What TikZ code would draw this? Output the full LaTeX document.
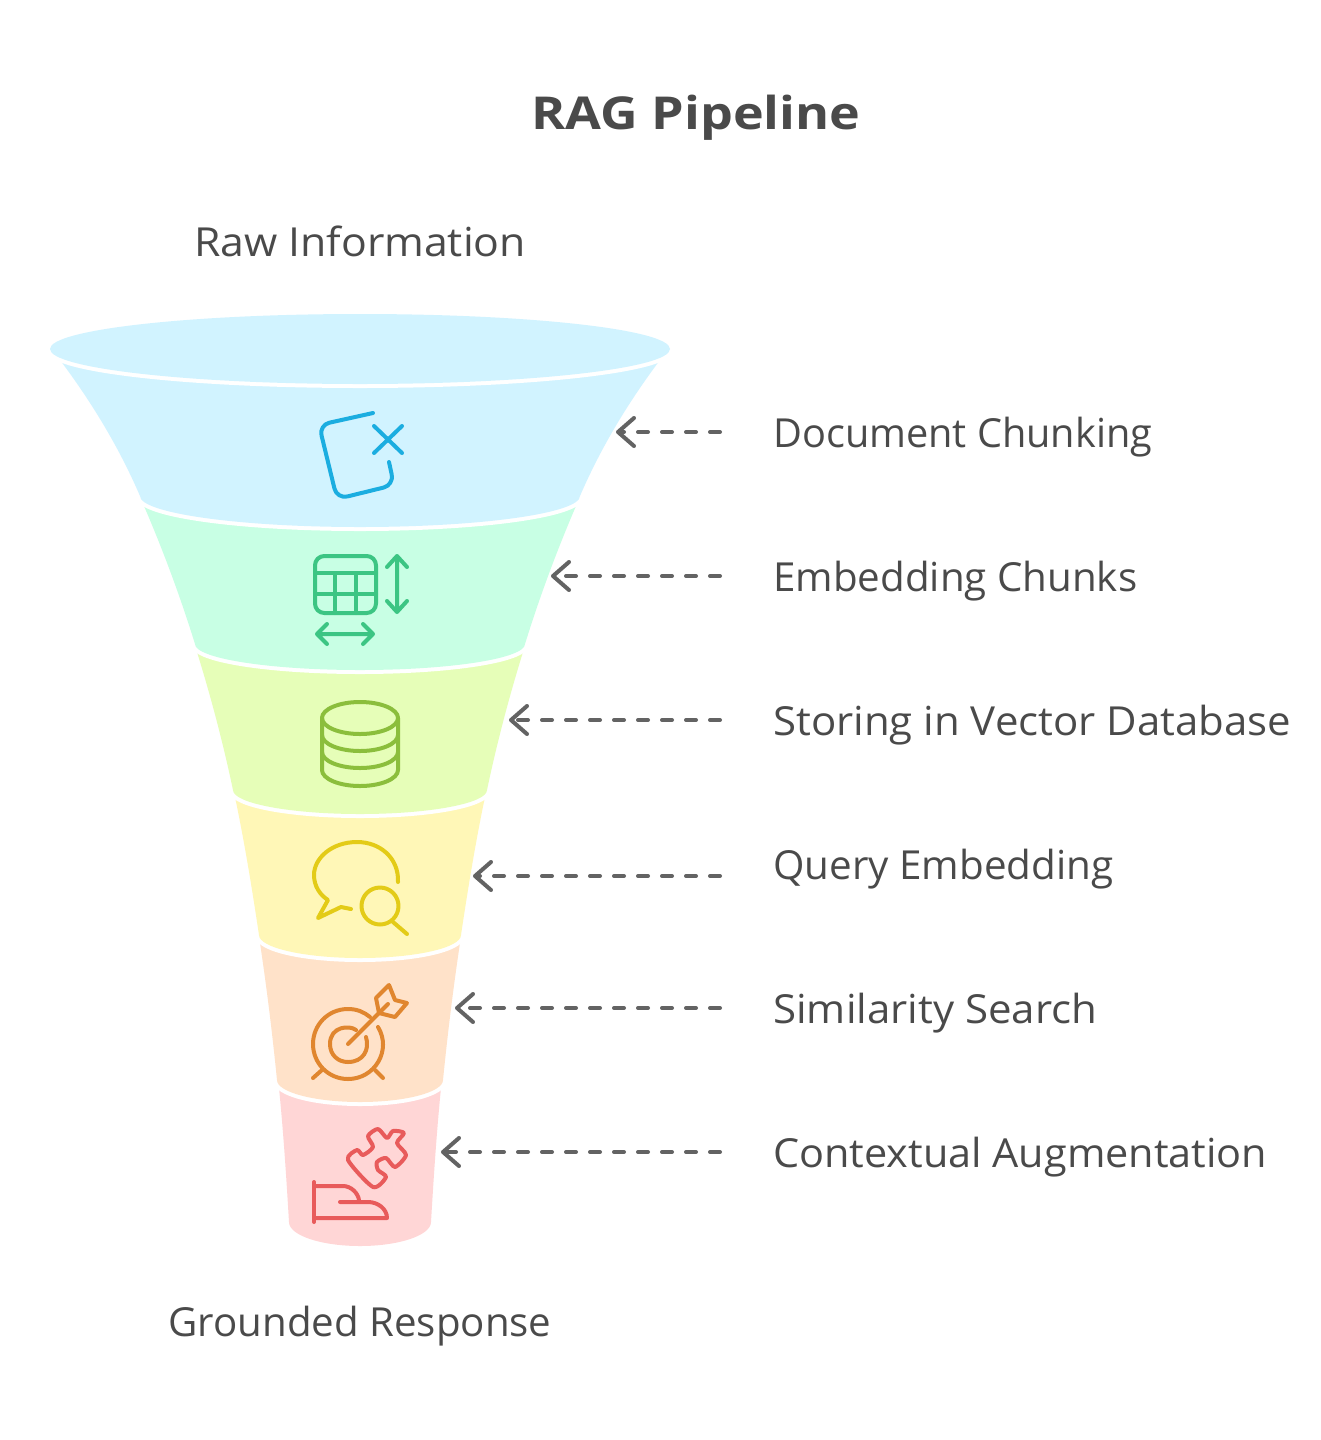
\documentclass[tikz,border=0pt]{standalone}
\usepackage{fontspec}
\usepackage{graphicx}
\setmainfont{Open Sans}
\usetikzlibrary{arrows.meta}
\definecolor{txt}{HTML}{4A4A4A}
\definecolor{arr}{HTML}{636363}
\definecolor{f1}{HTML}{D1F3FF}
\definecolor{f2}{HTML}{C8FFE4}
\definecolor{f3}{HTML}{E6FEB8}
\definecolor{f4}{HTML}{FFF7B7}
\definecolor{f5}{HTML}{FFE2C9}
\definecolor{f6}{HTML}{FFD6D6}
\definecolor{i1}{HTML}{1BADE0}
\definecolor{i2}{HTML}{3CC583}
\definecolor{i3}{HTML}{8BBE3C}
\definecolor{i4}{HTML}{E3CB17}
\definecolor{i5}{HTML}{E0862F}
\definecolor{i6}{HTML}{E85B5B}
\newsavebox\fitbox
\newcommand{\fitw}[2]{\sbox\fitbox{#2}\pgfmathsetmacro\fitr{#1*0.75/(\wd\fitbox)}\scalebox{\fitr}[1]{\usebox\fitbox}}
\tikzset{
  lbl/.style={anchor=base west,inner sep=0pt,text=txt,font=\fontsize{30}{36}\selectfont},
  endlbl/.style={anchor=base,inner sep=0pt,text=txt,font=\fontsize{30}{36}\selectfont},
  ttl/.style={anchor=base,inner sep=0pt,text=txt,font=\fontsize{34}{40}\selectfont\bfseries},
  conn/.style={draw=arr,line width=3pt,line cap=round,dash pattern=on 7.5pt off 10.5pt,-{Straight Barb[length=12pt,width=21pt,line width=3pt,round]}},
  icon/.style={line width=3pt,line cap=round,line join=round,fill=none},
  gap/.style={draw=white,line width=6pt},
}
\newcommand{\seg}[8]{% colour, top x, top y, bottom x, bottom y, sag, top slope, bottom slope
  \draw[gap] (#4,#5) arc[start angle=180,end angle=360,x radius={360-#4},y radius=-#6];
  \fill[#1] (#2,#3) .. controls ({#2+#7*(#5-#3)/3},{#3+(#5-#3)/3}) and ({#4-#8*(#5-#3)/3},{#5-(#5-#3)/3}) .. (#4,#5)
    arc[start angle=180,end angle=360,x radius={360-#4},y radius=-#6]
    .. controls ({720-#4+#8*(#5-#3)/3},{#5-(#5-#3)/3}) and ({720-#2-#7*(#5-#3)/3},{#3+(#5-#3)/3}) .. ({720-#2},#3) -- cycle;}
\begin{document}
\begin{tikzpicture}[x=0.75pt,y=-0.75pt]
\useasboundingbox (0,0) rectangle (1321,1440);
\fill[white] (0,0) rectangle (1321,1440);
% funnel, painted from the bottom up
\seg{f6}{279}{1088}{289}{1222}{24}{.10}{.06}
\seg{f5}{260}{943}{277}{1080}{22}{.15}{.10}
\seg{f4}{235}{797}{259}{935}{23}{.21}{.15}
\seg{f3}{197}{652}{233}{790}{24}{.31}{.21}
\seg{f2}{144}{506}{195}{644}{26}{.43}{.31}
\seg{f1}{60}{360}{140}{496}{31}{.75}{.43}
\draw[gap] (360,349) ellipse [x radius=310,y radius=35];
\fill[f1] (360,349) ellipse [x radius=310,y radius=35];
% icon 1
\draw[icon,i1,rounded corners=8pt] (373,413) -- (319,425) -- (337,499) -- (394,485) -- (389,462);
\draw[icon,i1] (374,426) -- (402,453) (402,426) -- (374,453);
% icon 2
\draw[icon,i2,rounded corners=7pt] (315,556) rectangle (376,613);
\draw[icon,i2] (315,573) -- (376,573) (315,594) -- (376,594) (335,573) -- (335,613) (356,573) -- (356,613);
\draw[icon,i2] (397,558) -- (397,611) (387,567) -- (397,556) -- (407,567) (387,601) -- (397,612) -- (407,601);
\draw[icon,i2] (319,634) -- (371,634) (327,624) -- (317,634) -- (327,644) (363,624) -- (373,634) -- (363,644);
% icon 3
\draw[icon,i3] (360,718) ellipse [x radius=38,y radius=16];
\draw[icon,i3] (322,718) -- (322,770) arc[start angle=180,end angle=360,x radius=38,y radius=-16] -- (398,718);
\draw[icon,i3] (322,735) arc[start angle=180,end angle=360,x radius=38,y radius=-16];
\draw[icon,i3] (322,752) arc[start angle=180,end angle=360,x radius=38,y radius=-16];
% icon 4
\draw[icon,i4] (398,882) .. controls (399,858) and (380,842) .. (357,842) .. controls (332,842) and (314,858) .. (314,875) .. controls (314,886) and (320,895) .. (328,900) -- (318,918) -- (341,907) -- (351,909);
\draw[icon,i4] (380,906) circle [radius=18.5];
\draw[icon,i4] (393,922) -- (407,934);
% icon 5
\draw[icon,i5] (378,1027) .. controls (392,1050) and (375,1079) .. (348,1079) .. controls (328,1079) and (313,1063) .. (313,1044) .. controls (313,1025) and (328,1009) .. (348,1009) .. controls (357,1009) and (364,1012) .. (370,1017);
\draw[icon,i5] (356,1030) .. controls (350,1025) and (330,1026) .. (330,1044) .. controls (330,1055) and (338,1062) .. (348,1062) .. controls (363,1062) and (370,1050) .. (366,1037);
\draw[icon,i5] (348,1044) -- (388,1004);
\draw[icon,i5] (376,998) -- (389,985) -- (395,1000) -- (407,1003) -- (395,1017) -- (379,1013) -- cycle;
\draw[icon,i5] (322,1070) -- (313,1078) (375,1070) -- (383,1078);
% icon 6
\draw[icon,i6] plot[smooth cycle,tension=0.45] coordinates {(357,1150) (348,1160) (373,1187) (386,1177) (378,1170) (377,1162) (386,1158) (395,1167) (406,1155) (397,1143) (404,1133) (393,1131) (387,1138) (378,1129) (368,1136) (373,1147) (363,1155)};
\draw[icon,i6] (314,1182) -- (314,1222);
\draw[icon,i6] (314,1186) -- (343,1186) .. controls (351,1186) and (358,1193) .. (359,1200);
\draw[icon,i6] (340,1202) -- (368,1202) .. controls (378,1202) and (387,1209) .. (387,1218) -- (314,1218);
% text
\node[ttl] (title) at (696,129) {\fitw{329}{RAG Pipeline}};
\node[endlbl] (raw) at (360,256) {\fitw{332}{Raw Information}};
\node[endlbl] (ground) at (360,1336) {\fitw{383}{Grounded Response}};
\node[lbl] (l1) at (773,447) {\fitw{379}{Document Chunking}};
\node[lbl] (l2) at (773,591) {\fitw{364}{Embedding Chunks}};
\node[lbl] (l3) at (773,735) {\fitw{518}{Storing in Vector Database}};
\node[lbl] (l4) at (773,879) {\fitw{340}{Query Embedding}};
\node[lbl] (l5) at (773,1023) {\fitw{324}{Similarity Search}};
\node[lbl] (l6) at (773,1167) {\fitw{494}{Contextual Augmentation}};
% connectors
\coordinate (s1) at (720,432); \coordinate (t1) at (616,432);
\coordinate (s2) at (720,576); \coordinate (t2) at (551,576);
\coordinate (s3) at (720,720); \coordinate (t3) at (509,720);
\coordinate (s4) at (720,876); \coordinate (t4) at (473,876);
\coordinate (s5) at (720,1008); \coordinate (t5) at (455,1008);
\coordinate (s6) at (720,1152); \coordinate (t6) at (441,1152);
\foreach \i in {1,...,6} \draw[conn] (s\i) -- (t\i);
\end{tikzpicture}
\end{document}
